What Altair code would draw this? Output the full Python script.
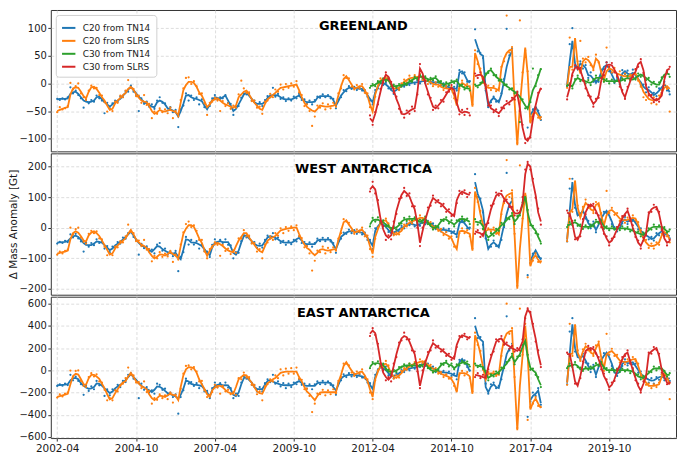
import altair as alt
import pandas as pd

N = None
SERIES = ["C20 from TN14", "C20 from SLRS", "C30 from TN14", "C30 from SLRS"]
COLORS = ["#1f77b4", "#ff7f0e", "#2ca02c", "#d62728"]
TICK_DATES = ["2002-04", "2004-10", "2007-04", "2009-10", "2012-04", "2014-10", "2017-04", "2019-10"]
C20_START, C30_START, POST_START = 0, 119, 194   # month offsets from 2002-04

# ---------------- GREENLAND ----------------
GB_LINE_PRE = [-29,-28,-28,-28,-27,-19,-16,-15,-19,-25,
 -31,-33,-34,-33,-31,-25,-24,-29,-34,-38,
 -42,-38,-34,-31,-28,-22,-17,-11,-6,-12,
 -18,-24,-29,-34,-36,-39,-42,-43,-34,-31,
 -33,-38,-45,-47,-49,-52,-60,-50,-37,-22,
 -21,-25,-27,-28,-30,-32,-40,-47,-38,-30,
 -25,-26,-28,-25,-22,-31,-40,-50,-46,-38,
 -29,-20,-17,-22,-28,-34,-37,-37,-37,-33,
 -26,-22,-21,-21,-22,-25,-28,-29,-29,-29,
 -27,-24,-22,-27,-32,-34,-34,-34,-33,-26,
 -23,-23,-23,-23,-24,-30,-40,-32,-22,-16,
 -11,-8,-8,-8,-9,-10,-10,-15,-21,-28,
 -34,-16,-6,1,0,-2,-6,-12,-15,-12,
 -8,-5,-3,-2,0,1,2,2,3,4,
 4,4,3,2,2,2,0,-3,-5,-7,
 -8,-9,-10,20,22,16,6,1,N,80,
 65,53,50,-10,-40,-31,-26,-30,-34,-20,
 5,30,48,59,N,N,N,N,N,N,
 -57,-50,-42,-52,-63]
GB_PTS_PRE = [-28,-30,-27,-29,-25,-7,-18,-13,-21,-27,
 -44,-30,-36,-30,-33,-22,-27,-31,-54,-35,
 -45,-36,-31,-33,-24,-25,-14,-15,-4,-15,
 -21,-50,-27,-37,-33,-42,-38,-46,-31,-25,
 -35,-36,-49,-43,-52,-48,-79,-47,-40,-18,
 -31,-22,-30,-25,-38,-29,-43,-44,-41,-27,
 -21,-29,-25,-27,-21,-35,-37,-57,-43,-41,
 -26,-18,-20,-19,-31,-31,-40,-34,-41,-30,
 -23,-25,-8,-24,-19,-28,-25,-32,-27,-31,
 -24,-27,-19,-30,-29,-37,-31,-38,-30,-24,
 -26,-20,-25,-21,-27,-28,-45,-29,-25,-12,
 -14,-5,-10,-6,-12,-8,-13,-12,-24,-31,
 -38,-12,-9,4,-3,1,-9,-10,-19,-9,
 -11,-2,-6,1,-3,4,-1,5,0,7,
 1,7,0,5,-1,4,-3,0,-8,-4,
 -11,-6,-13,24,18,20,3,4,N,98,
 58,55,46,-13,-43,-34,-24,-33,-31,-18,
 8,99,51,63,N,N,N,N,N,-80,
 -60,-47,-45,-49,-66]
GO_LINE_PRE = [-50,-48,-46,-44,-43,-20,-9,-7,-8,-15,
 -23,-27,-15,-7,-6,-10,-17,-25,-31,-40,
 -48,-46,-36,-31,-26,-21,-17,-10,-6,-12,
 -19,-26,-31,-33,-34,-41,-50,-55,-52,-48,
 -50,-51,-49,-48,-50,-52,-57,-35,-12,-3,
 3,3,1,-6,-16,-22,-32,-43,-38,-31,
 -29,-27,-31,-35,-38,-40,-42,-44,-40,-25,
 -20,-15,-13,-20,-28,-35,-40,-46,-48,-37,
 -29,-25,-21,-17,-12,-8,-7,-6,-5,-4,
 -3,-2,-12,-25,-35,-42,-46,-49,-51,-46,
 -40,-41,-42,-42,-41,-40,-38,-22,-5,8,
 13,6,-2,-9,-8,-5,-5,-12,-22,-38,
 -51,-20,-5,5,8,10,9,-2,-9,-9,
 -8,-3,3,6,9,10,11,12,13,10,
 6,4,2,-1,-2,-2,-6,-8,-9,-10,
 -10,-22,-40,-5,1,-2,-5,-5,-42,55,
 40,22,5,-5,-8,-8,-8,-10,-13,28,
 45,55,60,62,-34,-112,-40,15,65,18,
 -72,-55,-52,-58,-66]
GO_PTS_PRE = [-52,-43,-47,-45,-41,1,-11,-5,0,-18,
 -25,-30,-13,-4,-9,-8,-21,-22,-34,-51,
 -46,-50,-33,-35,-22,-25,-13,6,-8,-10,
 -23,-22,-35,-21,-39,-37,-63,-51,-55,-45,
 -52,-47,-54,-44,-63,-50,-60,-30,-9,10,
 11,-1,4,-5,-19,-18,-36,-57,-35,-33,
 -26,-31,-50,-32,-41,-36,-46,-40,-44,-20,
 5,-9,-17,-16,-32,-31,-44,-42,-55,-33,
 -31,-19,-25,-11,-15,-2,-11,-1,-8,0,
 -6,4,-16,-21,-41,-38,-50,-77,-60,-40,
 -44,-36,-47,-38,-45,-35,-42,-18,-9,15,
 10,9,-6,-11,-3,-9,-1,-17,-18,-43,
 -47,-24,0,9,2,14,5,1,-13,-5,
 -12,0,7,2,14,5,15,9,17,6,
 10,-1,6,-5,2,-6,-2,-12,-5,-14,
 -6,-27,-35,-9,5,-6,-1,-9,-38,60,
 35,27,1,-9,-4,-12,-5,-14,-9,30,
 40,123,56,66,-30,-108,114,20,60,22,
 -68,-64,-47,-62,-61]
GG_LINE_PRE = [-5,-4,-2,1,4,6,7,6,-3,-5,
 -5,-4,-3,-2,0,3,6,9,10,12,
 13,10,8,7,9,10,5,1,-2,-1,
 0,2,4,4,-2,-5,-8,-9,-10,N,
 -5,-4,-2,5,15,22,24,18,12,8,
 4,0,-5,-8,-12,-15,-19,-24,-32,-40,
 -46,-30,-12,-2,12,27]
GG_PTS_PRE = [-8,-1,-5,4,1,9,4,10,-6,-2,
 -8,-1,-6,1,-3,6,3,12,7,15,
 10,13,5,10,6,13,2,4,-5,2,
 -3,5,1,7,-5,-2,-11,-6,-13,N,
 -2,-7,1,2,18,19,27,15,15,5,
 7,-3,-2,-11,-9,-18,-16,-70,-29,-45,
 -43,-34,27,-5,15,26]
GR_LINE_PRE = [-63,-69,-55,-35,-15,5,16,12,0,-12,
 -28,-40,-55,-56,-54,-50,-47,-45,-16,27,
 18,0,-15,-30,-42,-45,-40,-34,-28,-20,
 -12,-8,-12,-35,-50,-53,-51,-52,-54,N,
 13,15,16,12,-5,-35,-45,-48,-51,-54,
 -48,-40,-37,-34,-30,-25,-19,-45,-80,-100,
 -104,-95,-65,-40,-20,-8]
GR_PTS_PRE = [-58,-75,-52,-38,-10,2,20,8,3,-17,
 -24,-46,-52,-62,-49,-55,-42,-50,-20,35,
 12,5,-20,-26,-48,-40,-45,-30,-33,-16,
 -15,-3,-18,-30,-56,-48,-57,-46,-58,N,
 18,10,20,8,-2,-40,-40,-52,-47,-59,
 -44,-45,-32,-38,-26,-29,-15,-50,-75,-108,
 -100,-98,-60,-45,-17,-10]
GB_LINE_POST = [-2,40,77,36,26,36,33,28,15,14, 8,1,8,20,30,33,27,16,6,4,
 4,18,22,18,16,19,15,8,2,-6, -10,-12,-16,-21,-18,-13,-7,-2,-8,-16]
GB_PTS_POST = [-5,71,100,30,30,40,27,33,10,20, 3,5,3,25,26,38,22,19,1,10,
 -2,24,17,23,12,25,10,13,-3,-2, -16,-7,-21,-17,-23,-9,-12,3,-13,-20]
GO_LINE_POST = [-5,30,30,82,36,18,40,45,42,36, 27,45,40,20,7,22,27,25,21,18,
 16,14,13,13,13,16,18,8,-2,-15, -22,-28,-30,-31,-30,-28,-16,-8,-5,-10]
GO_PTS_POST = [-8,83,25,80,40,77,45,38,48,33, 24,52,38,22,4,65,30,20,28,14,
 22,8,18,9,16,11,25,5,-6,-25, -30,-20,-36,-25,-38,-22,-12,-2,-10,-51]
GG_LINE_POST = [-2,-4,-5,5,10,7,6,4,2,1, 5,10,10,10,7,4,4,4,4,4,
 4,6,8,10,8,7,10,14,16,13, 10,6,2,0,-2,-2,8,16,18,16]
GG_PTS_POST = [-4,0,-9,8,14,4,9,0,6,-3, 8,14,6,13,3,8,0,7,2,6,
 1,9,5,14,5,11,7,18,12,16, 6,10,-2,3,-6,2,11,13,22,12]
GR_LINE_POST = [-25,-8,18,28,30,24,10,-5,-18,-28, -37,-32,-22,5,20,33,34,33,25,16,
 0,-16,-25,-10,4,15,21,35,39,24, -5,-18,-25,-29,-31,-28,-22,7,24,27]
GR_PTS_POST = [-29,-3,14,33,26,28,5,-9,-22,-24, -42,-28,-26,10,15,38,30,37,20,13,
 -6,-12,-28,-6,8,12,26,30,44,19, -2,-22,-21,-34,-28,-33,-17,12,20,30]

# ---------------- WEST ANTARCTICA ----------------
WB_LINE_PRE = [-49,-48,-47,-46,-44,-35,-28,-26,-30,-40,
 -50,-56,-57,-57,-52,-45,-46,-49,-57,-65,
 -73,-68,-58,-52,-46,-38,-31,-22,-13,-25,
 -39,-50,-58,-62,-66,-72,-79,-70,-60,-62,
 -70,-75,-80,-83,-85,-82,-95,-103,-72,-38,
 -40,-48,-49,-50,-55,-60,-70,-82,-90,-65,
 -49,-46,-44,-47,-47,-47,-62,-82,-88,-75,
 -48,-28,-25,-35,-44,-52,-58,-59,-58,-45,
 -32,-28,-30,-33,-38,-44,-48,-49,-49,-49,
 -45,-38,-33,-42,-52,-54,-54,-54,-54,-42,
 -39,-39,-39,-39,-40,-55,-70,-50,-30,-23,
 -16,-12,-12,-12,-13,-15,-16,-22,-33,-45,
 -59,-10,5,14,10,3,-8,-18,-15,-12,
 -6,0,3,8,13,12,9,8,12,18,
 17,15,14,8,0,-5,-7,-7,-8,-10,
 -12,-18,-23,14,24,14,3,-6,N,149,
 110,88,56,-30,-69,-55,-48,-55,-64,-30,
 10,45,75,88,N,N,N,N,N,N,
 -110,-90,-74,-90,-105]
WB_PTS_PRE = [-52,-46,-50,-43,-47,-22,-32,-20,-35,-45,
 -78,-49,-62,-50,-57,-38,-50,-45,-68,-60,
 -80,-62,-64,-47,-52,-32,-36,-18,-10,-30,
 -40,-88,-53,-67,-61,-77,-72,-84,-55,-50,
 -75,-68,-88,-78,-93,-76,-142,-95,-80,-30,
 -55,-40,-55,-44,-68,-54,-76,-78,-96,-56,
 -38,-52,-40,-50,-38,-56,-58,-100,-80,-82,
 -44,-24,-32,-30,-50,-47,-66,-52,-65,-40,
 -26,-35,-18,-38,-32,-50,-43,-56,-44,-54,
 -40,-45,-28,-50,-47,-60,-48,-62,-50,-36,
 -44,-33,-44,-34,-45,-50,-82,-44,-36,-16,
 -20,-6,-18,-8,-20,-10,-22,-16,-40,-40,
 -70,-2,0,20,5,10,-14,-12,-22,-6,
 -12,6,-2,14,8,18,4,14,6,24,
 11,22,8,14,-5,0,-12,-2,-14,-4,
 -18,-12,-30,20,18,20,-2,0,N,175,
 100,95,50,-35,-65,-62,-42,-60,-58,-40,
 2,179,70,95,N,N,N,N,N,-155,
 -115,-85,-80,-95,-100]
WO_LINE_PRE = [-85,-82,-80,-78,-75,-38,-18,-12,-16,-28,
 -42,-45,-25,-16,-12,-18,-27,-42,-57,-72,
 -88,-84,-68,-58,-50,-42,-34,-20,-7,-22,
 -38,-48,-55,-60,-66,-80,-92,-100,-95,-87,
 -88,-91,-86,-80,-86,-92,-100,-60,-20,-3,
 8,8,3,-15,-35,-50,-72,-92,-75,-60,
 -54,-49,-54,-60,-68,-74,-78,-80,-60,-42,
 -30,-18,-18,-32,-44,-56,-68,-76,-80,-60,
 -42,-36,-31,-27,-18,-9,-6,-4,-2,-1,
 0,1,-20,-40,-55,-66,-72,-82,-90,-82,
 -72,-70,-73,-75,-73,-71,-70,-40,-10,18,
 24,10,-2,-15,-14,-9,-7,-18,-32,-60,
 -85,-30,-5,15,22,24,10,-10,-18,-23,
 -16,-10,4,10,16,21,24,28,32,32,
 26,20,12,4,-2,-6,-12,-18,-23,-28,
 -35,-55,-70,-12,-10,-12,-16,-20,-75,118,
 90,45,10,-11,-6,-6,-6,-12,-22,50,
 90,105,110,114,-27,-199,-69,25,114,51,
 -126,-100,-90,-105,-116]
WO_PTS_PRE = [-88,-78,-84,-76,-72,0,-22,-5,0,-32,
 -46,-52,-20,-10,-18,-12,-35,-38,-62,-90,
 -85,-90,-62,-64,-44,-48,-28,10,-14,-18,
 -44,-42,-60,-40,-72,-70,-110,-92,-100,-80,
 -95,-85,-94,-76,-112,-88,-104,-55,-15,12,
 20,2,8,-10,-40,-40,-78,-100,-70,-65,
 -48,-56,-92,-56,-76,-68,-86,-74,-82,-35,
 -36,-8,-28,-26,-52,-50,-78,-70,-100,-55,
 -48,-28,-40,-18,-26,-2,-18,2,-10,4,
 -8,8,-28,-34,-64,-60,-84,-140,-108,-75,
 -80,-62,-84,-66,-80,-64,-75,-36,-18,28,
 20,16,-10,-20,-6,-14,0,-28,-26,-70,
 -95,-36,0,18,16,30,14,-4,-25,-16,
 -22,-4,10,4,24,14,30,22,40,26,
 32,12,18,-4,4,-10,-4,-24,-14,-36,
 -28,-62,-62,-18,-2,-18,-8,-28,-68,130,
 84,55,-6,-14,-2,-12,0,-20,-15,44,
 80,221,100,122,-20,-190,204,30,105,-162,
 -118,-108,-84,-112,-110]
WG_LINE_PRE = [10,24,26,26,22,18,10,3,-1,-2,
 1,8,20,26,28,29,29,29,24,19,
 24,29,18,5,0,-1,8,20,28,27,
 20,17,10,18,28,29,28,24,19,N,
 20,18,16,5,-20,-32,-25,-18,-11,-2,
 8,16,25,35,41,20,30,46,75,103,
 50,15,0,-10,-30,-48]
WG_PTS_PRE = [4,32,20,34,16,24,4,8,-8,4,
 -6,14,14,32,22,36,24,34,18,26,
 16,36,12,12,-6,6,2,26,22,34,
 14,24,4,24,22,36,22,30,12,N,
 28,10,22,-4,-14,-40,-18,-26,-4,-10,
 16,8,32,28,48,12,38,40,82,96,
 58,8,6,-18,-22,-52]
WR_LINE_PRE = [125,136,125,80,30,-5,-25,-33,-25,10,
 55,85,107,120,112,102,80,60,14,-49,
 -10,25,55,80,97,90,83,78,70,60,
 52,45,38,90,110,118,114,110,107,N,
 -12,-15,-18,-27,0,25,60,85,105,112,
 110,95,85,75,60,48,46,50,80,175,
 209,200,150,107,50,20]
WR_PTS_PRE = [118,150,112,90,20,5,-40,-25,-38,20,
 45,95,98,130,104,112,70,70,0,-60,
 0,18,66,72,105,82,90,70,78,52,
 60,38,44,80,120,110,122,100,114,N,
 -20,-8,-30,-20,10,15,72,78,115,105,
 120,86,92,68,68,40,56,50,100,190,
 215,190,160,98,62,10]
WB_LINE_POST = [-39,55,149,75,40,45,55,38,15,5, 12,-7,10,30,45,55,40,20,-5,-4,
 -2,20,27,20,24,29,15,3,-10,-18, -25,-30,-37,-35,-25,-18,-12,-18,-23,-28]
WB_PTS_POST = [-45,128,160,65,45,38,60,30,22,-2, 20,-15,18,24,52,48,48,12,2,-12,
 8,14,35,12,30,22,22,-5,-2,-25, -18,-38,-30,-42,-18,-25,-5,-25,-15,-35]
WO_LINE_POST = [-39,50,60,154,66,34,60,81,72,60, 55,75,80,40,8,40,55,58,50,40,
 30,26,24,26,29,32,30,10,-15,-35, -48,-58,-60,-59,-55,-48,-25,-14,-20,-39]
WO_PTS_POST = [-44,160,52,150,72,40,68,92,65,70, 48,84,72,48,0,120,48,65,42,48,
 22,34,16,33,22,40,24,18,-8,-42, -40,-66,-52,-68,-48,-56,-20,-6,-28,-48]
WG_LINE_POST = [8,10,14,18,12,4,3,3,3,3, 10,19,20,19,5,-2,-2,-2,-2,-2,
 -2,-2,-2,-4,-6,-10,-14,-18,-21,-23, -16,-8,0,3,3,3,3,-4,-12,-12]
WG_PTS_POST = [2,18,8,24,6,10,-4,8,-2,10, 4,26,14,24,-4,4,-8,4,-6,2,
 -8,4,-6,2,-12,-4,-20,-12,-28,-16, -24,-2,-6,10,-4,8,-2,2,-16,-6]
WR_LINE_POST = [50,45,14,-30,-40,-20,19,50,68,76, 70,55,35,10,-15,-35,-49,-42,-25,-5,
 14,30,45,55,30,0,-25,-49,-59,-40, -18,45,60,66,68,45,3,-35,-49,-44]
WR_PTS_POST = [56,38,22,-38,-32,-28,28,44,75,70, 78,48,40,2,-20,-28,-58,-36,-30,2,
 8,38,40,62,22,8,-30,-42,-68,-32, -25,50,52,75,60,52,-8,-28,-58,-40]

# ---------------- EAST ANTARCTICA ----------------
EB_LINE_PRE = [-134,-132,-130,-128,-125,-90,-72,-68,-80,-115,
 -140,-155,-166,-162,-150,-118,-122,-138,-162,-182,
 -205,-190,-162,-146,-130,-110,-88,-60,-33,-60,
 -85,-115,-140,-155,-168,-180,-195,-175,-145,-148,
 -162,-185,-205,-215,-222,-235,-252,-220,-165,-90,
 -100,-122,-128,-131,-135,-142,-170,-200,-235,-175,
 -140,-130,-125,-135,-132,-135,-170,-220,-232,-200,
 -125,-70,-60,-85,-110,-150,-168,-168,-168,-130,
 -95,-88,-100,-111,-120,-128,-132,-134,-134,-134,
 -125,-108,-97,-115,-135,-140,-140,-140,-140,-115,
 -111,-111,-111,-111,-115,-150,-182,-130,-75,-54,
 -45,-40,-40,-40,-45,-50,-54,-70,-95,-130,
 -168,-60,0,31,20,3,-25,-54,-48,-42,
 -25,-10,3,10,16,22,28,31,45,58,
 55,42,31,18,3,-10,-14,-18,-20,-24,
 -30,-45,-54,74,103,70,46,-10,N,402,
 320,280,259,-150,-197,-145,-125,-150,-160,-60,
 40,146,195,217,N,N,N,N,N,N,
 -268,-230,-211,-182,-296]
EB_PTS_PRE = [-140,-125,-138,-120,-132,-40,-90,-55,-95,-125,
 -220,-140,-185,-145,-170,-95,-135,-125,-230,-170,
 -225,-170,-180,-130,-150,-95,-105,-40,-25,-75,
 -90,-250,-120,-175,-150,-200,-180,-210,-120,-130,
 -175,-165,-225,-200,-240,-215,-390,-240,-180,-75,
 -120,-105,-140,-115,-160,-125,-190,-185,-250,-160,
 -110,-150,-115,-150,-110,-155,-160,-250,-210,-230,
 -110,-55,-75,-70,-130,-135,-190,-150,-190,-115,
 -80,-105,-40,-120,-100,-145,-115,-160,-120,-150,
 -110,-125,-80,-130,-120,-165,-125,-170,-125,-100,
 -125,-95,-125,-100,-130,-135,-220,-115,-90,-35,
 -60,-25,-55,-30,-60,-35,-65,-55,-110,-115,
 -200,-40,10,55,5,35,-45,-40,-70,-25,
 -45,5,-15,25,0,40,15,45,30,70,
 40,60,20,35,-15,5,-30,-5,-40,-10,
 -50,-30,-80,95,85,90,30,0,N,470,
 290,300,230,-120,-210,-125,-110,-160,-140,-80,
 30,487,180,240,N,N,N,N,N,-418,
 -280,-200,-230,-160,-310]
EO_LINE_PRE = [-239,-232,-225,-218,-211,-125,-50,-31,-38,-80,
 -125,-130,-70,-40,-40,-55,-75,-120,-160,-215,
 -260,-250,-205,-170,-135,-110,-97,-55,-22,-60,
 -97,-120,-140,-155,-170,-215,-250,-268,-250,-228,
 -232,-239,-225,-211,-220,-228,-268,-150,-45,10,
 30,28,17,-20,-80,-125,-168,-215,-239,-180,
 -154,-140,-140,-152,-175,-197,-205,-211,-150,-80,
 -60,-42,-45,-80,-111,-150,-190,-205,-211,-160,
 -115,-100,-80,-68,-45,-22,-15,-12,-11,-11,
 -11,-11,-60,-100,-150,-190,-211,-240,-268,-230,
 -200,-197,-197,-197,-197,-197,-197,-110,-40,40,
 74,35,0,-35,-30,-15,-11,-45,-95,-170,
 -239,-80,-11,40,52,60,30,-31,-55,-68,
 -45,-25,5,20,35,50,60,68,76,83,
 70,50,30,15,3,-15,-30,-40,-50,-60,
 -80,-120,-197,-25,-25,-25,-35,-54,-211,316,
 250,150,30,-83,-31,-28,-25,-32,-40,150,
 280,331,350,359,-83,-539,-140,130,402,146,
 -353,-290,-254,-300,-339]
EO_PTS_PRE = [-245,-215,-235,-210,-200,-2,-60,-5,0,-95,
 -140,-150,-60,-25,-55,-35,-100,-110,-175,-270,
 -250,-270,-180,-190,-135,-120,-70,25,-40,-45,
 -110,-105,-160,-100,-195,-185,-300,-250,-265,-215,
 -250,-225,-260,-200,-290,-220,-255,-165,-30,40,
 45,10,30,-10,-100,-95,-180,-240,-220,-195,
 -130,-155,-210,-140,-190,-175,-215,-195,-220,-70,
 -80,-20,-65,-60,-130,-130,-215,-190,-270,-145,
 -125,-80,-100,-45,-70,10,-45,15,-30,20,
 -30,25,-75,-85,-170,-165,-230,-376,-300,-210,
 -215,-175,-225,-180,-215,-170,-205,-95,-60,60,
 60,45,-20,-50,-10,-30,10,-70,-80,-200,
 -260,-90,0,40,30,85,45,-10,-75,-45,
 -65,-5,20,5,60,35,75,50,100,65,
 85,35,50,-10,20,-30,-15,-60,-35,-75,
 -65,-140,-180,-40,-5,-45,-15,-70,-190,340,
 230,175,5,-75,-15,-45,-10,-50,-25,130,
 260,601,330,380,-60,-520,556,140,420,-447,
 -330,-300,-240,-320,-330]
EG_LINE_PRE = [31,60,64,66,55,46,18,-11,-11,-11,
 0,15,35,40,44,46,46,46,42,37,
 48,60,30,5,-5,-11,15,45,65,70,
 50,46,20,40,60,70,74,60,46,N,
 46,42,36,31,-20,-68,-50,-40,-28,-15,
 10,35,60,100,131,74,110,146,210,265,
 123,23,0,-20,-80,-134]
EG_PTS_PRE = [20,75,55,82,40,60,5,5,-30,5,
 -15,30,25,55,35,60,35,62,30,50,
 35,75,20,20,-20,5,0,60,50,85,
 35,62,10,55,45,85,60,80,35,N,
 60,30,50,15,-5,-90,-35,-55,-10,-30,
 25,20,75,90,150,55,125,130,230,250,
 140,5,15,-40,-60,-150]
ER_LINE_PRE = [330,359,335,220,80,-20,-60,-83,-55,40,
 146,230,288,310,300,259,200,146,10,-139,
 -30,70,140,200,245,225,205,190,170,150,
 130,115,105,230,290,316,310,300,288,N,
 -40,-45,-52,-60,-68,30,117,190,259,280,
 288,250,230,217,200,188,176,200,259,487,
 550,516,400,288,150,46]
ER_PTS_PRE = [310,380,320,240,60,0,-90,-60,-100,60,
 120,250,270,340,280,280,180,170,-10,-160,
 0,50,165,180,270,205,220,170,190,130,
 150,95,125,210,310,300,330,280,300,N,
 -60,-25,-70,-40,-50,10,140,170,280,260,
 310,230,250,195,220,170,200,180,280,470,
 560,527,420,260,180,30]
EB_LINE_POST = [-111,146,416,200,120,110,131,90,40,10, 30,-40,30,90,131,160,120,60,-20,-30,
 -11,60,80,65,68,74,40,3,-30,-54, -70,-83,-92,-90,-75,-62,-54,-70,-80,-68]
EB_PTS_POST = [-125,350,470,170,140,95,150,70,60,-15, 50,-60,45,70,155,140,140,40,0,-50,
 10,40,100,45,90,55,60,-20,-10,-75, -50,-110,-70,-120,-60,-85,-35,-90,-60,-95]
EO_LINE_POST = [-111,146,150,416,160,103,170,217,202,160, 146,200,245,117,17,146,165,174,150,120,
 89,80,74,80,89,100,103,40,-30,-80, -110,-140,-140,-140,-132,-125,-54,-30,-60,-125]
EO_PTS_POST = [-130,420,130,400,180,85,190,240,180,175, 130,225,260,100,-5,330,140,195,130,140,
 70,100,55,100,75,120,85,60,-50,-60, -130,-120,-160,-125,-150,-110,-35,-10,-80,-260]
EG_LINE_POST = [31,40,46,55,40,10,10,17,17,17, 30,46,55,60,30,3,3,3,2,0,
 0,2,3,0,-5,-11,-30,-54,-62,-68, -45,-25,0,17,17,17,17,-10,-40,-40]
EG_PTS_POST = [20,60,30,75,30,25,-5,30,5,35, 15,65,40,75,15,20,-15,15,-10,15,
 -15,15,-10,10,-25,5,-45,-35,-80,-50, -60,-10,-15,35,0,30,5,-5,-55,-25]
ER_LINE_POST = [146,146,31,-100,-139,-50,60,174,195,202, 190,160,100,31,-50,-97,-154,-130,-80,-10,
 46,100,146,160,80,3,-70,-139,-182,-120, -54,146,170,188,202,131,3,-60,-111,-125]
ER_PTS_POST = [160,130,50,-120,-120,-70,80,160,220,185, 210,150,120,10,-30,-80,-175,-110,-95,10,
 30,120,130,180,60,20,-90,-120,-200,-100, -70,160,150,210,185,150,-20,-50,-125,-110]

PANELS = [
    dict(title="GREENLAND", ydomain=[-123, 133], yticks=[-100, -50, 0, 50, 100], ytitle=None,
         data=[(GB_LINE_PRE, GB_PTS_PRE, GB_LINE_POST, GB_PTS_POST),
               (GO_LINE_PRE, GO_PTS_PRE, GO_LINE_POST, GO_PTS_POST),
               (GG_LINE_PRE, GG_PTS_PRE, GG_LINE_POST, GG_PTS_POST),
               (GR_LINE_PRE, GR_PTS_PRE, GR_LINE_POST, GR_PTS_POST)]),
    dict(title="WEST ANTARCTICA", ydomain=[-219, 243], yticks=[-200, -100, 0, 100, 200],
         ytitle="\u0394 Mass Anomaly [Gt]",
         data=[(WB_LINE_PRE, WB_PTS_PRE, WB_LINE_POST, WB_PTS_POST),
               (WO_LINE_PRE, WO_PTS_PRE, WO_LINE_POST, WO_PTS_POST),
               (WG_LINE_PRE, WG_PTS_PRE, WG_LINE_POST, WG_PTS_POST),
               (WR_LINE_PRE, WR_PTS_PRE, WR_LINE_POST, WR_PTS_POST)]),
    dict(title="EAST ANTARCTICA", ydomain=[-610, 664], yticks=[-600, -400, -200, 0, 200, 400, 600], ytitle=None,
         data=[(EB_LINE_PRE, EB_PTS_PRE, EB_LINE_POST, EB_PTS_POST),
               (EO_LINE_PRE, EO_PTS_PRE, EO_LINE_POST, EO_PTS_POST),
               (EG_LINE_PRE, EG_PTS_PRE, EG_LINE_POST, EG_PTS_POST),
               (ER_LINE_PRE, ER_PTS_PRE, ER_LINE_POST, ER_PTS_POST)]),
]

W, H = 628, 142
FONT = "DejaVu Sans"


def month_date(m):
    y = 2002 + (3 + m) // 12
    mo = (3 + m) % 12 + 1
    return f"{y:04d}-{mo:02d}-01"


def rows_for(values, start):
    out, seg, fresh = [], 0, True
    for i, v in enumerate(values):
        if v is None:
            fresh = True
            continue
        if fresh:
            seg += 1
            fresh = False
        out.append({"date": month_date(start + i), "val": v, "seg": f"{start}-{seg}"})
    return out


x_scale = alt.Scale(domain=[alt.DateTime(year=2002, month=1, date=17),
                            alt.DateTime(year=2021, month=11, date=13)])
tick_vals = [alt.DateTime(year=int(s[:4]), month=int(s[5:]), date=1) for s in TICK_DATES]

panels = []
for pi, p in enumerate(PANELS):
    last = pi == len(PANELS) - 1
    if last:
        xaxis = alt.Axis(values=tick_vals, format="%Y-%m", title=None, labelAngle=0,
                         labelFontSize=10.5, labelFlush=False, labelOverlap=False,
                         tickSize=3, labelPadding=2, grid=True, domain=False)
    else:
        xaxis = alt.Axis(values=tick_vals, labels=False, ticks=False, domain=False,
                         grid=True, title=None)
    yaxis_kw = dict(values=p["yticks"], labelFontSize=10, tickSize=3, labelPadding=1.5,
                    labelOverlap=False, domain=False, grid=True)
    if p["ytitle"]:
        yaxis = alt.Axis(title=p["ytitle"], titleFontSize=10.5, titleFontWeight="normal",
                         titlePadding=0, **yaxis_kw)
    else:
        yaxis = alt.Axis(title=None, **yaxis_kw)
    X = alt.X("date:T", scale=x_scale, axis=xaxis)
    Y = alt.Y("val:Q", scale=alt.Scale(domain=p["ydomain"], nice=False, zero=False), axis=yaxis)
    if pi == 0:
        legend = alt.Legend(title=None, orient="top-left", offset=5, symbolType="stroke",
                            symbolSize=180, symbolStrokeWidth=2, labelFontSize=9,
                            labelOffset=6, rowPadding=0, padding=5, fillColor="white",
                            strokeColor="#d0d0d0", cornerRadius=3, labelFont=FONT,
                            labelColor="#222222")
    else:
        legend = None
    C = alt.Color("series:N", scale=alt.Scale(domain=SERIES, range=COLORS), legend=legend)

    layers = []
    for si, s in enumerate(SERIES):
        line_pre, pts_pre, line_post, pts_post = p["data"][si]
        start = C20_START if si < 2 else C30_START
        exp_pre = 185 if si < 2 else 66
        assert len(line_pre) == exp_pre and len(pts_pre) == exp_pre, (p["title"], s, len(line_pre), len(pts_pre))
        assert len(line_post) == 40 and len(pts_post) == 40, (p["title"], s, len(line_post), len(pts_post))
        pts_df = pd.DataFrame(rows_for(pts_pre, start) + rows_for(pts_post, POST_START))
        ln_df = pd.DataFrame(rows_for(line_pre, start) + rows_for(line_post, POST_START))
        ln_df["series"] = s
        layers.append(alt.Chart(pts_df).mark_circle(size=5, opacity=1, color=COLORS[si],
                                                    clip=True).encode(x=X, y=Y))
        layers.append(alt.Chart(ln_df).mark_line(strokeWidth=1.8, clip=True).encode(
            x=X, y=Y, color=C, detail="seg:N"))
    title_df = pd.DataFrame({"t": [p["title"]]})
    layers.append(alt.Chart(title_df).mark_text(font=FONT, fontSize=13, fontWeight="bold",
                                                color="black", align="center", baseline="middle")
                  .encode(x=alt.value(W / 2), y=alt.value(16), text="t:N"))
    panels.append(alt.layer(*layers).properties(width=W, height=H))

chart = (alt.vconcat(*panels, spacing=0)
         .resolve_scale(color="independent")
         .resolve_legend(color="independent")
         .properties(padding={"left": 0, "top": 0, "right": 0, "bottom": 0})
         .configure(font=FONT)
         .configure_view(stroke="#333333", strokeWidth=1)
         .configure_axis(labelFont=FONT, titleFont=FONT, labelColor="#1a1a1a",
                         titleColor="#1a1a1a", tickColor="#333333",
                         gridColor="#d4d4d4", gridDash=[3, 2], gridWidth=0.8))

chart.save("out.html", embed_options={"renderer": "svg", "actions": False})
